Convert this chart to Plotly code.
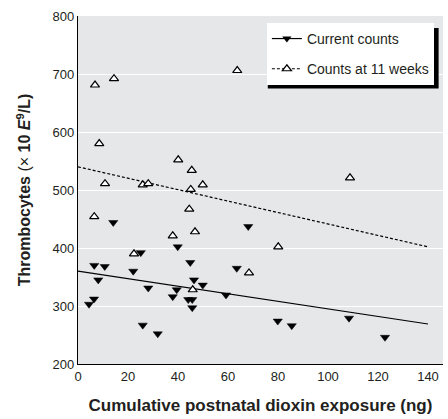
import plotly.graph_objects as go

# Current counts (filled down-triangles)
cur_x = [14.1, 68.1, 25.1, 39.9, 44.9, 6.5, 10.7, 22.1, 63.5, 8.1, 46.4, 49.9, 28.1, 39.5,
         37.9, 59.2, 6.4, 4.4, 44.1, 45.7, 45.7, 25.9, 31.9, 79.9, 85.5, 108.4, 122.8]
cur_y = [444, 437, 392, 402, 375, 370, 368, 360, 365, 345, 345, 336, 331, 328,
         316, 319, 312, 303, 311, 311, 297, 267, 252, 274, 266, 279, 246]

# Counts at 11 weeks (open up-triangles)
wk_x = [6.8, 14.4, 63.7, 8.5, 40.1, 45.5, 10.8, 25.9, 28.1, 45.1, 49.9, 108.8,
        6.5, 44.5, 37.9, 46.8, 22.4, 80.1, 68.4, 45.9]
wk_y = [681, 692, 706, 580, 552, 534, 511, 509, 511, 501, 509, 521,
        454, 467, 421, 428, 390, 402, 357, 328]

# Regression lines
fit_x = [0, 140]
cur_fit = [360, 269]
wk_fit = [540, 402]

x_ticks = [0, 20, 40, 60, 80, 100, 120, 140]
y_ticks = [200, 300, 400, 500, 600, 700, 800]

FONT = "Liberation Sans, Arial, sans-serif"

fig = go.Figure()
fig.add_trace(go.Scatter(x=fit_x, y=cur_fit, mode="lines", showlegend=False,
                         line=dict(color="black", width=1.2)))
fig.add_trace(go.Scatter(x=fit_x, y=wk_fit, mode="lines", showlegend=False,
                         line=dict(color="black", width=1.2, dash="3px,2px")))
fig.add_trace(go.Scatter(x=cur_x, y=cur_y, mode="markers", showlegend=False,
                         marker=dict(symbol="triangle-down", size=8, color="black",
                                     line=dict(width=0.5, color="black"))))
fig.add_trace(go.Scatter(x=wk_x, y=wk_y, mode="markers", showlegend=False,
                         marker=dict(symbol="triangle-up", size=8, color="white",
                                     line=dict(width=1.2, color="black"))))
# legend proxies
fig.add_trace(go.Scatter(x=[None], y=[None], mode="lines+markers", name="Current counts",
                         legendgroup="a",
                         line=dict(color="black", width=1.2),
                         marker=dict(symbol="triangle-down", size=8, color="black")))
fig.add_trace(go.Scatter(x=[None], y=[None], mode="lines+markers", name="Counts at 11 weeks",
                         legendgroup="b",
                         line=dict(color="black", width=1.2, dash="3px,2px"),
                         marker=dict(symbol="triangle-up", size=8, color="white",
                                     line=dict(width=1.2, color="black"))))

# legend drop shadow
fig.add_shape(type="rect", xref="paper", yref="paper",
              x0=0.52, x1=0.988, y0=0.792, y1=0.9655,
              fillcolor="black", line=dict(width=0), layer="above")

fig.update_layout(
    width=448, height=419,
    margin=dict(l=78, r=5, t=16, b=55),
    paper_bgcolor="white",
    plot_bgcolor="#e6e7e9",
    font=dict(family=FONT, size=12, color="#231f20"),
    showlegend=True,
    legend=dict(x=0.975, y=0.98, xanchor="right", yanchor="top",
                bgcolor="white", borderwidth=0, tracegroupgap=9,
                font=dict(size=14, family=FONT, color="#231f20")),
    xaxis=dict(range=[0, 146], tickvals=x_ticks, showgrid=False, zeroline=False,
               showline=True, linecolor="black", linewidth=1.3, ticks="",
               tickfont=dict(size=13),
               title=dict(text="<b>Cumulative postnatal dioxin exposure (ng)</b>",
                          font=dict(size=17, family=FONT), standoff=16)),
    yaxis=dict(range=[200, 800], tickvals=y_ticks, showgrid=True, gridcolor="white",
               gridwidth=1.2, zeroline=False, showline=True, linecolor="black",
               linewidth=1.3, ticks="", tickfont=dict(size=13),
               title=dict(text="<b>Thrombocytes</b> (× <b>10 <i>E</i><sup>9</sup>/L)</b>",
                          font=dict(size=16, family=FONT), standoff=17)),
)

fig.write_html("out.html",
               config={"displayModeBar": False},
               post_script="document.body.style.margin='0';document.body.style.padding='0';")
